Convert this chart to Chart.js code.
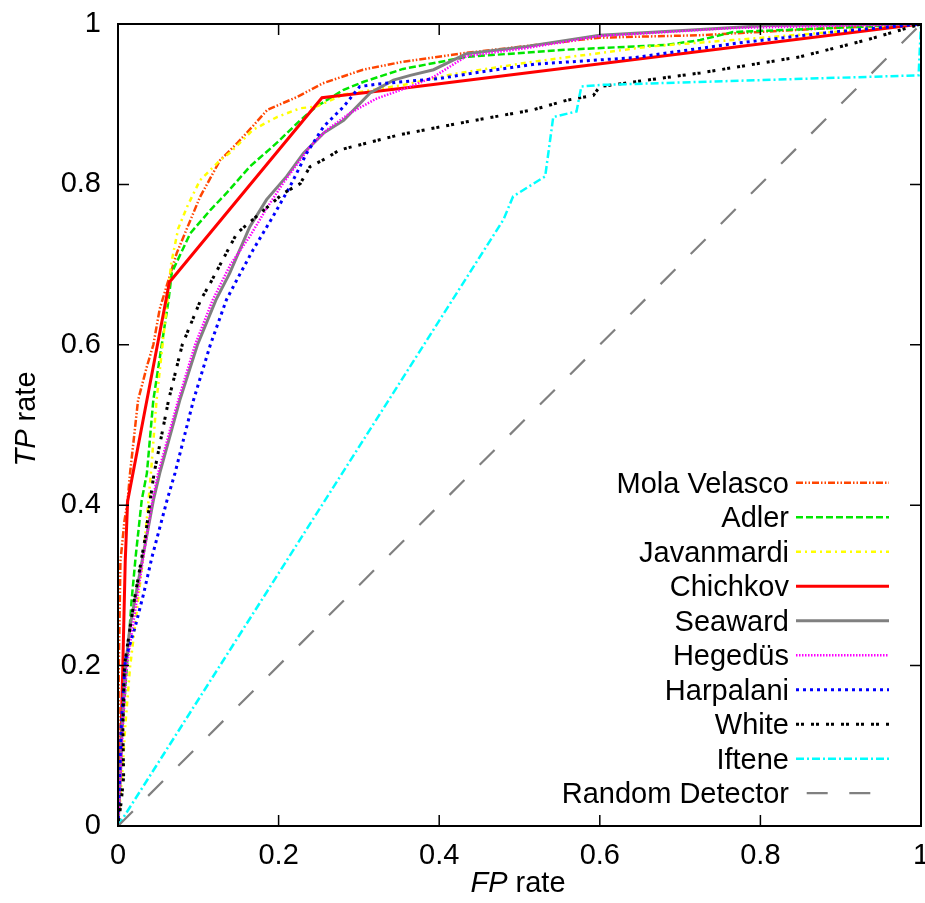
<!DOCTYPE html>
<html>
<head>
<meta charset="utf-8">
<title>Curvas ROC</title>
<script src="https://cdn.jsdelivr.net/npm/chart.js@4.4.1/dist/chart.umd.min.js"></script>
<style>
    html, body { margin: 0; padding: 0; background: #ffffff; }
    #wrap { width: 925px; height: 903px; }
</style>
</head>
<body>
<div id="wrap"><canvas id="rocChart" width="925" height="903"></canvas></div>
<script>
// Valores: FP rate (x) e TP rate (y) de cada sistema
var molaX = [0, 0.001, 0.003, 0.008, 0.012, 0.015, 0.025, 0.036, 0.044, 0.052, 0.073, 0.102, 0.127, 0.149, 0.17, 0.186, 0.223, 0.255, 0.305, 0.355, 0.434, 0.6, 0.725, 0.89, 1];
var molaY = [0, 0.2, 0.33, 0.38, 0.406, 0.44, 0.531, 0.573, 0.6, 0.645, 0.714, 0.784, 0.83, 0.852, 0.875, 0.893, 0.909, 0.926, 0.943, 0.953, 0.964, 0.983, 0.986, 0.995, 1];

var adlerX = [0, 0.004, 0.011, 0.017, 0.022, 0.0295, 0.036, 0.044, 0.063, 0.067, 0.09, 0.115, 0.135, 0.164, 0.198, 0.227, 0.247, 0.281, 0.306, 0.355, 0.434, 0.559, 0.684, 0.725, 0.766, 0.89, 1];
var adlerY = [0, 0.1, 0.198, 0.282, 0.336, 0.406, 0.44, 0.531, 0.656, 0.69, 0.739, 0.768, 0.789, 0.822, 0.852, 0.88, 0.897, 0.918, 0.928, 0.944, 0.959, 0.968, 0.974, 0.98, 0.99, 0.995, 1];

var javanX = [0, 0.005, 0.009, 0.015, 0.0315, 0.038, 0.041, 0.048, 0.062, 0.066, 0.075, 0.086, 0.102, 0.127, 0.139, 0.168, 0.198, 0.227, 0.247, 0.281, 0.355, 0.42, 0.517, 0.663, 0.766, 0.89, 1];
var javanY = [0, 0.06, 0.124, 0.198, 0.336, 0.406, 0.44, 0.531, 0.66, 0.7, 0.745, 0.772, 0.805, 0.83, 0.839, 0.868, 0.884, 0.895, 0.897, 0.912, 0.924, 0.938, 0.953, 0.972, 0.98, 0.99, 1];

var chichkovX = [0, 0.003, 0.006, 0.009, 0.012, 0.064, 0.254, 0.365, 1];
var chichkovY = [0, 0.08, 0.2, 0.33, 0.405, 0.678, 0.908, 0.921, 1];

var seawardX = [0, 0.003, 0.005, 0.0095, 0.015, 0.031, 0.044, 0.052, 0.077, 0.099, 0.122, 0.139, 0.164, 0.185, 0.21, 0.231, 0.256, 0.281, 0.314, 0.343, 0.364, 0.393, 0.434, 0.509, 0.6, 0.725, 0.808, 1];
var seawardY = [0, 0.061, 0.124, 0.2, 0.249, 0.336, 0.406, 0.44, 0.531, 0.6, 0.656, 0.689, 0.747, 0.781, 0.81, 0.839, 0.864, 0.88, 0.914, 0.93, 0.936, 0.943, 0.963, 0.972, 0.986, 0.993, 0.998, 1];

var hegedusX = [0, 0.003, 0.006, 0.011, 0.031, 0.043, 0.05, 0.075, 0.096, 0.118, 0.14, 0.164, 0.185, 0.206, 0.239, 0.26, 0.289, 0.322, 0.364, 0.393, 0.434, 0.509, 0.6, 0.766, 1];
var hegedusY = [0, 0.06, 0.124, 0.2, 0.332, 0.406, 0.44, 0.531, 0.6, 0.656, 0.7, 0.735, 0.77, 0.802, 0.847, 0.868, 0.889, 0.907, 0.922, 0.934, 0.96, 0.97, 0.985, 0.995, 1];

var harpalaniX = [0, 0.002, 0.004, 0.009, 0.0216, 0.032, 0.042, 0.061, 0.071, 0.094, 0.115, 0.135, 0.148, 0.168, 0.193, 0.214, 0.235, 0.256, 0.281, 0.301, 0.322, 0.355, 0.4, 0.45, 0.52, 0.642, 0.77, 0.89, 1];
var harpalaniY = [0, 0.06, 0.124, 0.207, 0.249, 0.29, 0.334, 0.406, 0.44, 0.531, 0.6, 0.656, 0.681, 0.718, 0.76, 0.797, 0.839, 0.872, 0.897, 0.922, 0.925, 0.928, 0.932, 0.94, 0.95, 0.958, 0.976, 0.99, 1];

var whiteX = [0, 0.004, 0.007, 0.006, 0.008, 0.02, 0.034, 0.04, 0.045, 0.063, 0.08, 0.103, 0.115, 0.148, 0.177, 0.206, 0.227, 0.239, 0.26, 0.276, 0.351, 0.434, 0.517, 0.559, 0.592, 0.6, 0.725, 0.849, 0.932, 1];
var whiteY = [0, 0.03, 0.061, 0.124, 0.2, 0.28, 0.36, 0.406, 0.44, 0.531, 0.6, 0.656, 0.677, 0.739, 0.764, 0.789, 0.801, 0.822, 0.833, 0.843, 0.862, 0.878, 0.893, 0.905, 0.911, 0.922, 0.939, 0.959, 0.98, 1];

var ifteneX = [0, 0.48, 0.492, 0.532, 0.542, 0.571, 0.577, 0.6, 0.997, 1];
var ifteneY = [0, 0.756, 0.785, 0.81, 0.884, 0.891, 0.922, 0.924, 0.936, 1];

var randomX = [0, 1];
var randomY = [0, 1];

var nomes = ["Mola Velasco", "Adler", "Javanmardi", "Chichkov", "Seaward", "Heged\u00fcs", "Harpalani", "White", "Iftene", "Random Detector"];

var xTicks = [0, 0.2, 0.4, 0.6, 0.8, 1];
var xTickLabels = ["0", "0.2", "0.4", "0.6", "0.8", "1"];
var yTicks = [0, 0.2, 0.4, 0.6, 0.8, 1];
var yTickLabels = ["0", "0.2", "0.4", "0.6", "0.8", "1"];

// Estilos de cada curva (cor, largura, traço)
var cores = ["#ff4500", "#00e600", "#ffff00", "#ff0000", "#808080", "#ff00ff", "#0000ff", "#000000", "#00ffff", "#808080"];
var larguras = [2.5, 2.5, 2.5, 3, 3, 2.5, 3, 3, 2.5, 2.2];
var tracos = [[7, 2, 1.5, 2, 1.5, 2], [7, 3], [5, 4, 2, 4], [], [], [1.5, 1.5], [3, 4], [3, 2, 3, 7], [8, 3, 2, 3], [21, 21.6]];

var FONTE = "'Liberation Sans', Arial, Helvetica, sans-serif";
var TAM = 29;

// Função para montar os pontos {x, y} de uma curva
function pontos(xs, ys) {
    var lista = [];
    for (var i = 0; i < xs.length; i++) {
        lista.push({ x: xs[i], y: ys[i] });
    }
    return lista;
}

var series = [
    pontos(molaX, molaY),
    pontos(adlerX, adlerY),
    pontos(javanX, javanY),
    pontos(chichkovX, chichkovY),
    pontos(seawardX, seawardY),
    pontos(hegedusX, hegedusY),
    pontos(harpalaniX, harpalaniY),
    pontos(whiteX, whiteY),
    pontos(ifteneX, ifteneY),
    pontos(randomX, randomY)
];

var datasets = series.map(function (dados, i) {
    return {
        label: nomes[i],
        data: dados,
        showLine: true,
        fill: false,
        borderColor: cores[i],
        backgroundColor: cores[i],
        borderWidth: larguras[i],
        borderDash: tracos[i],
        pointRadius: 0,
        tension: 0,
        order: series.length - i
    };
});

// Moldura, marcas internas, legenda e títulos dos eixos
var molduraPlugin = {
    id: "moldura",
    afterDatasetsDraw: function (chart) {
        var ctx = chart.ctx;
        var a = chart.chartArea;
        var sx = chart.scales.x;
        var sy = chart.scales.y;
        ctx.save();
        ctx.setLineDash([]);
        ctx.strokeStyle = "#000000";
        ctx.lineWidth = 1.5;
        ctx.beginPath();
        xTicks.forEach(function (v) {
            var px = sx.getPixelForValue(v);
            ctx.moveTo(px, a.bottom);
            ctx.lineTo(px, a.bottom - 11);
            ctx.moveTo(px, a.top);
            ctx.lineTo(px, a.top + 11);
        });
        yTicks.forEach(function (v) {
            var py = sy.getPixelForValue(v);
            ctx.moveTo(a.left, py);
            ctx.lineTo(a.left + 11, py);
            ctx.moveTo(a.right, py);
            ctx.lineTo(a.right - 11, py);
        });
        ctx.stroke();
        ctx.lineWidth = 2;
        ctx.strokeRect(a.left, a.top, a.right - a.left, a.bottom - a.top);

        // legenda no canto inferior direito
        ctx.font = TAM + "px " + FONTE;
        ctx.textAlign = "right";
        ctx.textBaseline = "alphabetic";
        ctx.fillStyle = "#000000";
        chart.data.datasets.forEach(function (ds, i) {
            var y = 482.7 + 34.5 * i;
            ctx.fillText(ds.label, 789, y + 10);
            ctx.save();
            ctx.strokeStyle = ds.borderColor;
            ctx.lineWidth = ds.borderWidth;
            ctx.setLineDash(ds.borderDash);
            ctx.lineDashOffset = (i === series.length - 1) ? 31.9 : 0;
            ctx.beginPath();
            ctx.moveTo(796, y);
            ctx.lineTo(889, y);
            ctx.stroke();
            ctx.restore();
        });

        // título do eixo x: "FP rate"
        ctx.textAlign = "left";
        ctx.font = "italic " + TAM + "px " + FONTE;
        var w1 = ctx.measureText("FP").width;
        ctx.font = TAM + "px " + FONTE;
        var w2 = ctx.measureText(" rate").width;
        var x0 = 518 - (w1 + w2) / 2;
        ctx.font = "italic " + TAM + "px " + FONTE;
        ctx.fillText("FP", x0, 892);
        ctx.font = TAM + "px " + FONTE;
        ctx.fillText(" rate", x0 + w1, 892);

        // título do eixo y: "TP rate"
        ctx.translate(35, 419);
        ctx.rotate(-Math.PI / 2);
        ctx.font = "italic " + TAM + "px " + FONTE;
        w1 = ctx.measureText("TP").width;
        ctx.font = TAM + "px " + FONTE;
        w2 = ctx.measureText(" rate").width;
        x0 = -(w1 + w2) / 2;
        ctx.font = "italic " + TAM + "px " + FONTE;
        ctx.fillText("TP", x0, 0);
        ctx.font = TAM + "px " + FONTE;
        ctx.fillText(" rate", x0 + w1, 0);
        ctx.restore();
    }
};

function desenharGrafico() {
    var ctx = document.getElementById("rocChart");
    var chart = new Chart(ctx, {
        type: "scatter",
        data: { datasets: datasets },
        options: {
            responsive: false,
            animation: false,
            devicePixelRatio: 1,
            layout: { padding: { top: 24, right: 4, left: 0, bottom: 0 } },
            plugins: {
                legend: { display: false },
                tooltip: { enabled: false }
            },
            scales: {
                x: {
                    type: "linear",
                    position: "bottom",
                    min: 0,
                    max: 1,
                    grid: { display: false, drawTicks: false },
                    border: { display: false },
                    afterBuildTicks: function (s) {
                        s.ticks = xTicks.map(function (v) { return { value: v }; });
                    },
                    ticks: {
                        padding: 13,
                        maxRotation: 0,
                        autoSkip: false,
                        color: "#000000",
                        font: { family: FONTE, size: TAM },
                        callback: function (v, i) { return xTickLabels[i]; }
                    },
                    afterFit: function (s) {
                        s.height = 77;
                        s.paddingLeft = 0;
                        s.paddingRight = 0;
                    }
                },
                y: {
                    type: "linear",
                    min: 0,
                    max: 1,
                    grid: { display: false, drawTicks: false },
                    border: { display: false },
                    afterBuildTicks: function (s) {
                        s.ticks = yTicks.map(function (v) { return { value: v }; });
                    },
                    ticks: {
                        padding: 17,
                        autoSkip: false,
                        color: "#000000",
                        font: { family: FONTE, size: TAM },
                        callback: function (v, i) { return yTickLabels[i]; }
                    },
                    afterFit: function (s) {
                        s.width = 118;
                        s.paddingTop = 0;
                        s.paddingBottom = 0;
                    }
                }
            }
        },
        plugins: [molduraPlugin]
    });
}

document.addEventListener("DOMContentLoaded", function () {
    desenharGrafico();
});
</script>
</body>
</html>
